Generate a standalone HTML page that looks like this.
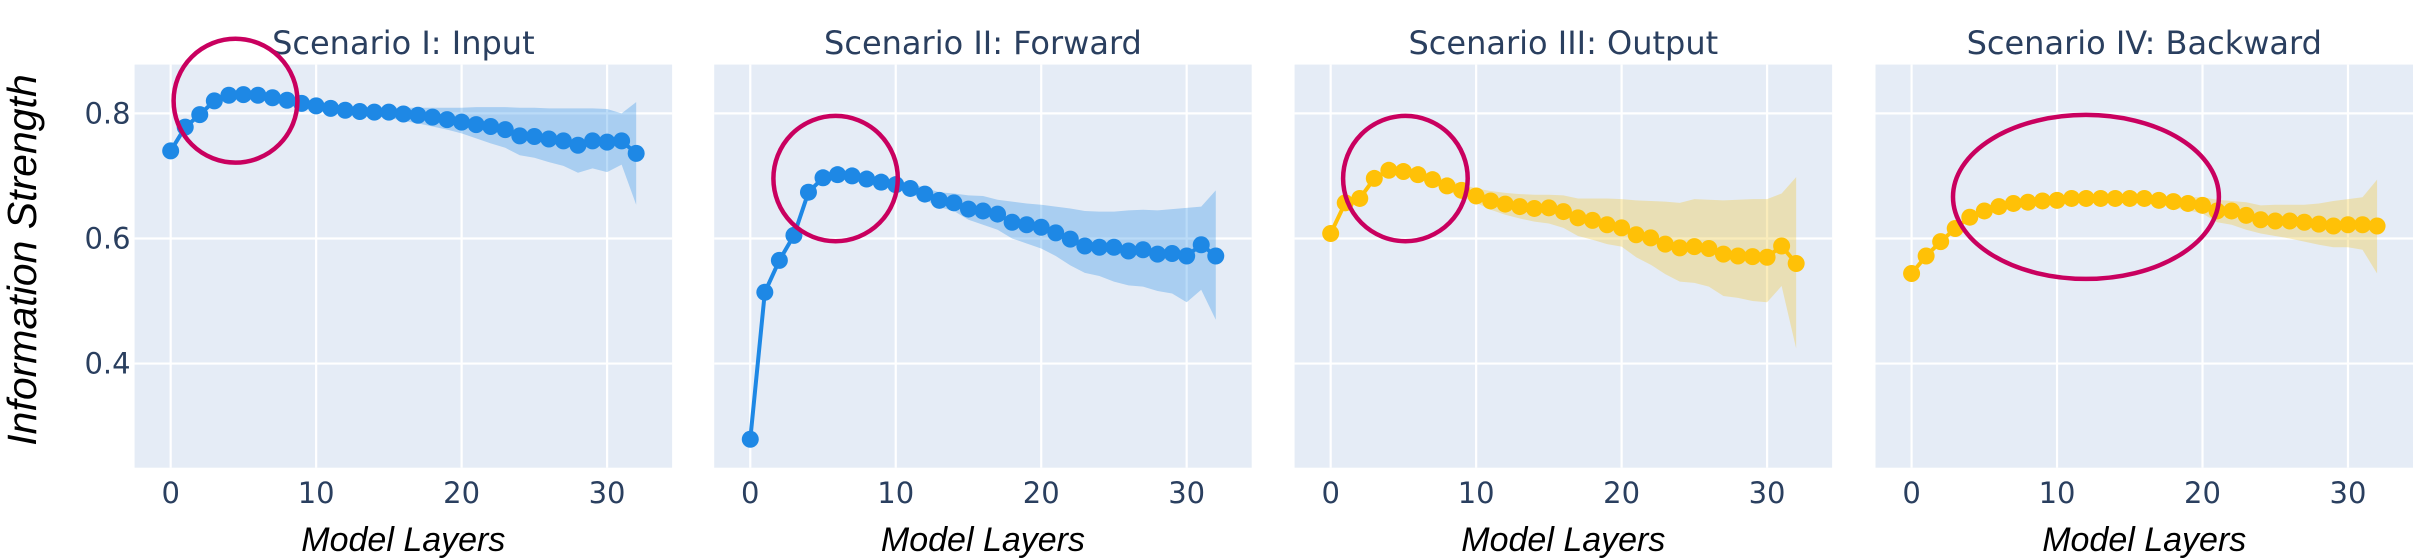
<!DOCTYPE html>
<html><head><meta charset="utf-8"><style>
html,body{margin:0;padding:0;background:#fff;}
svg{display:block;}
</style></head><body>
<svg id="chart" width="2436" height="560" viewBox="0 0 2436 560" xmlns="http://www.w3.org/2000/svg">
<text x="0" y="0" transform="translate(36,260) rotate(-90)" text-anchor="middle" font-family="Liberation Sans, sans-serif" font-style="italic" font-size="41" fill="#000">Information Strength</text>
</svg>
<script>
const layers = Array.from({length:33},(_, i)=>i);
const titles = ["Scenario I: Input","Scenario II: Forward","Scenario III: Output","Scenario IV: Backward"];
const yTicks = [0.4,0.6,0.8];
const yTickLabels = ["0.4","0.6","0.8"];
const xTicks = [0,10,20,30];
const xTickLabels = ["0","10","20","30"];
const meanInput = [.740,.778,.798,.820,.829,.830,.829,.825,.821,.816,.812,.808,.805,.803,.802,.802,.799,.797,.794,.790,.786,.782,.779,.774,.764,.763,.759,.756,.749,.756,.754,.756,.736];
const upperInput = [.741,.779,.799,.821,.830,.831,.830,.826,.823,.819,.816,.813,.811,.810,.809,.809,.809,.809,.809,.809,.809,.810,.810,.810,.809,.809,.808,.808,.808,.808,.807,.800,.818];
const lowerInput = [.739,.777,.797,.819,.828,.829,.828,.824,.819,.813,.808,.804,.800,.797,.795,.793,.788,.784,.779,.774,.768,.760,.752,.745,.733,.729,.722,.716,.705,.712,.706,.718,.654];
const meanForward = [.279,.514,.565,.605,.674,.697,.702,.700,.695,.690,.686,.680,.671,.661,.657,.647,.644,.639,.626,.622,.618,.609,.599,.588,.586,.586,.580,.582,.575,.576,.572,.590,.572];
const upperForward = [.281,.516,.567,.607,.676,.699,.704,.702,.698,.694,.692,.688,.681,.674,.672,.669,.668,.662,.659,.656,.654,.651,.648,.644,.643,.643,.645,.646,.645,.647,.649,.651,.677];
const lowerForward = [.277,.512,.563,.603,.672,.695,.700,.698,.692,.686,.680,.672,.662,.650,.644,.630,.622,.614,.600,.592,.584,.572,.557,.545,.540,.531,.525,.523,.516,.512,.498,.518,.470];
const meanOutput = [.608,.657,.664,.696,.709,.707,.702,.694,.684,.677,.668,.660,.655,.651,.648,.649,.643,.633,.629,.622,.617,.606,.601,.591,.585,.587,.584,.575,.572,.571,.570,.588,.560];
const upperOutput = [.610,.659,.666,.698,.712,.711,.707,.701,.693,.687,.680,.676,.673,.671,.670,.670,.669,.664,.664,.664,.663,.661,.660,.659,.657,.663,.662,.661,.662,.663,.663,.672,.698];
const lowerOutput = [.606,.655,.662,.694,.706,.703,.697,.688,.676,.667,.657,.646,.638,.632,.627,.624,.617,.604,.598,.591,.587,.570,.558,.543,.531,.529,.523,.508,.505,.500,.498,.524,.424];
const meanBackward = [.544,.572,.595,.616,.634,.644,.651,.656,.658,.660,.661,.664,.664,.664,.664,.664,.664,.661,.659,.656,.653,.644,.644,.637,.630,.628,.628,.626,.623,.620,.622,.622,.620];
const upperBackward = [.546,.574,.597,.618,.636,.646,.653,.658,.660,.662,.663,.666,.666,.666,.666,.667,.667,.666,.666,.666,.666,.662,.660,.658,.653,.654,.654,.654,.656,.660,.663,.666,.694];
const lowerBackward = [.542,.570,.593,.614,.632,.642,.649,.654,.656,.658,.659,.662,.662,.662,.662,.661,.659,.655,.650,.645,.640,.626,.622,.614,.608,.604,.600,.595,.590,.586,.586,.582,.544];

const means = [meanInput, meanForward, meanOutput, meanBackward];
const uppers = [upperInput, upperForward, upperOutput, upperBackward];
const lowers = [lowerInput, lowerForward, lowerOutput, lowerBackward];
const colors = ["#1e88e5","#1e88e5","#ffc107","#ffc107"];
const bandColors = ["rgba(30,136,229,0.3)","rgba(30,136,229,0.3)","rgba(240,200,60,0.35)","rgba(240,200,60,0.35)"];
const names = ["input","forward","output","backward"];

const panelX = [134.6, 714.2, 1294.6, 1875.5];
const panelW = 537.5, panelTop = 64.6, panelBottom = 467.7;
const xMin = -2.48, xMax = 34.47, yMin = 0.2335, yMax = 0.878;
const NS = "http://www.w3.org/2000/svg";
const svg = document.getElementById("chart");
function mk(tag, attrs, parent){ const e = document.createElementNS(NS, tag); for(const k in attrs) e.setAttribute(k, attrs[k]); (parent||svg).appendChild(e); return e; }
function yScale(v){ return panelTop + (yMax - v)/(yMax - yMin)*(panelBottom - panelTop); }

const ellipses = [[173.6,297.4,38.8,162.6],[773.4,897.8,115.9,241.2],[1343.1,1467.7,115.9,241.2],[1953,2218.9,114.9,278.9]];

for(let p=0;p<4;p++){
  const x0 = panelX[p];
  const xScale = v => x0 + (v - xMin)/(xMax - xMin)*panelW;
  const g = mk("g",{});
  
  
  const bg = mk("rect",{x:x0,y:panelTop,width:panelW,height:panelBottom-panelTop,fill:"#e5ecf6"},g);
  
  
  yTicks.forEach((t,i)=>{
    const gl = mk("line",{x1:x0,x2:x0+panelW,y1:yScale(t),y2:yScale(t),stroke:"#fff","stroke-width":2.2},g);
    
    
    if(p===0){
      const tl = mk("text",{x:x0-4,y:yScale(t)+10,"text-anchor":"end","font-family":"DejaVu Sans, sans-serif","font-size":29,fill:"#2a3f5f"},g);
      tl.textContent = yTickLabels[i];
      
      
    }
  });
  xTicks.forEach((t,i)=>{
    const gl = mk("line",{x1:xScale(t),x2:xScale(t),y1:panelTop,y2:panelBottom,stroke:"#fff","stroke-width":2.2},g);
    
    
    const tl = mk("text",{x:xScale(t),y:503,"text-anchor":"middle","font-family":"DejaVu Sans, sans-serif","font-size":29,fill:"#2a3f5f"},g);
    tl.textContent = xTickLabels[i];
    
    
  });
  const title = mk("text",{x:x0+panelW/2,y:54,"text-anchor":"middle","font-family":"DejaVu Sans, sans-serif","font-size":32,fill:"#2a3f5f"},g);
  title.textContent = titles[p];
  
  
  const xt = mk("text",{x:x0+panelW/2,y:551,"text-anchor":"middle","font-family":"Liberation Sans, sans-serif","font-style":"italic","font-size":34,fill:"#000"},g);
  xt.textContent = "Model Layers";
  
  
  let pts = layers.map(i=>xScale(i)+","+yScale(uppers[p][i]));
  pts = pts.concat(layers.slice().reverse().map(i=>xScale(i)+","+yScale(lowers[p][i])));
  const band = mk("polygon",{points:pts.join(" "),fill:bandColors[p],stroke:"none"},g);
  
  
  const line = mk("polyline",{points:layers.map(i=>xScale(i)+","+yScale(means[p][i])).join(" "),fill:"none",stroke:colors[p],"stroke-width":4,"stroke-linejoin":"round"},g);
  
  
  layers.forEach(i=>{
    const c = mk("circle",{cx:xScale(i),cy:yScale(means[p][i]),r:8.5,fill:colors[p]},g);
    
    
  });
  const e = ellipses[p];
  const el = mk("ellipse",{cx:(e[0]+e[1])/2,cy:(e[2]+e[3])/2,rx:(e[1]-e[0])/2,ry:(e[3]-e[2])/2,fill:"none",stroke:"#c9005f","stroke-width":4.5},g);
  
  
}
</script>
</body></html>
